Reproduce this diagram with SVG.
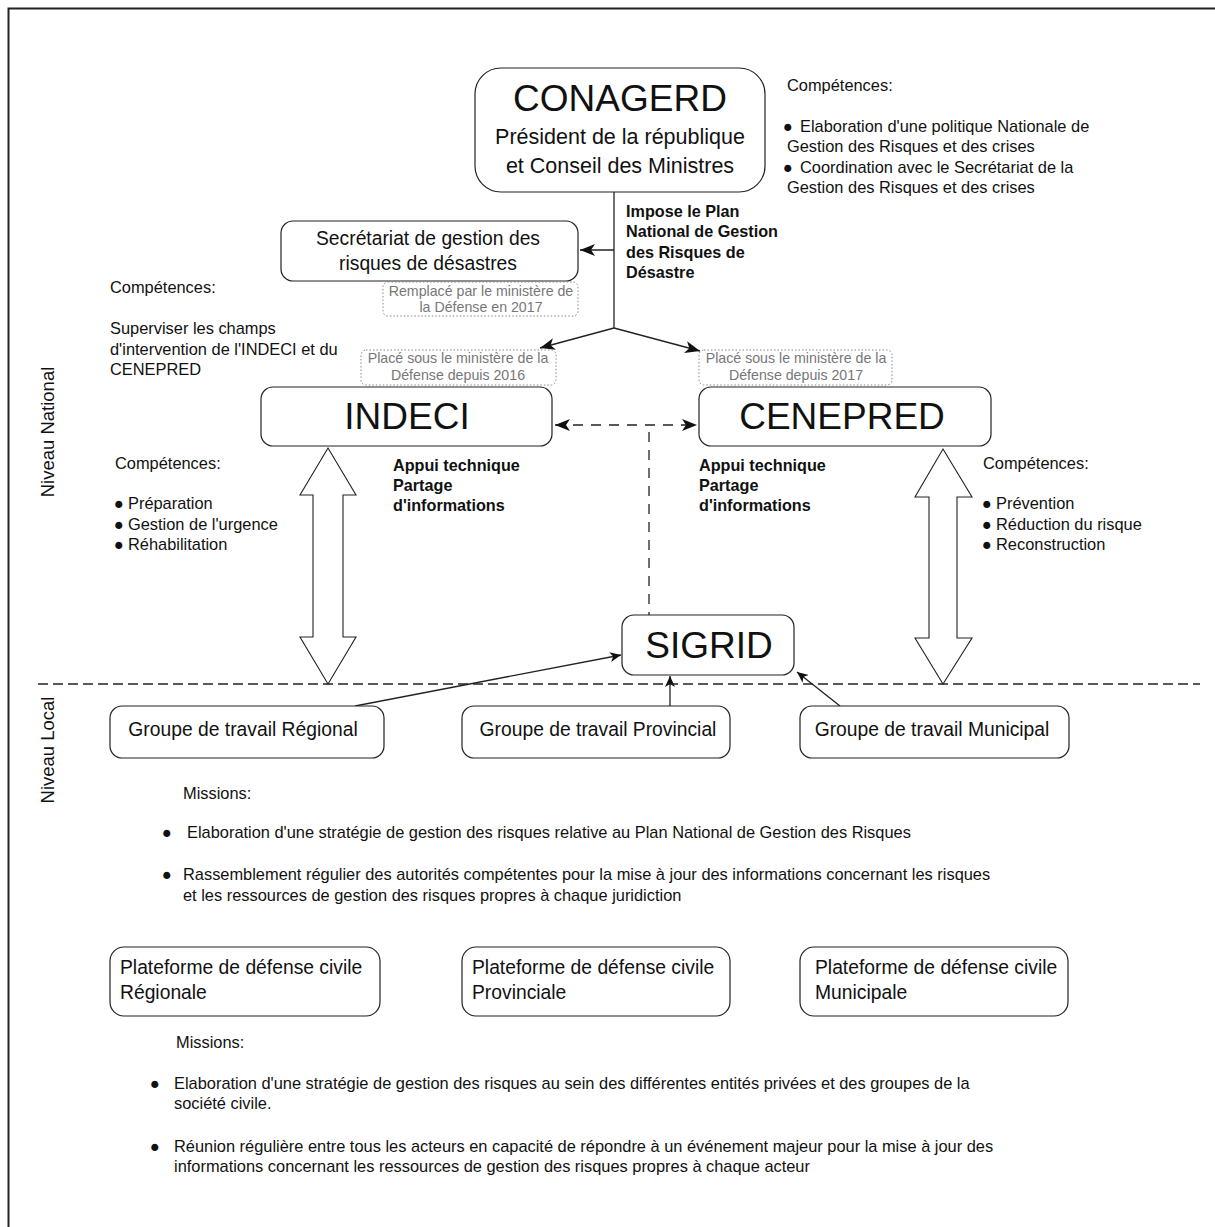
<svg xmlns="http://www.w3.org/2000/svg" width="1215" height="1227" viewBox="0 0 1215 1227">
<style>
text{font-family:"Liberation Sans",Arial,sans-serif;fill:#111}
.box{fill:#fff;stroke:#222;stroke-width:1.2}
.note{fill:#fff;stroke:#888;stroke-width:1;stroke-dasharray:1.5,2}
.nt{font-size:14.2px;fill:#777;text-anchor:middle}
.t15{font-size:16.4px}
.b15{font-size:16.2px;font-weight:bold}
.t18{font-size:19.3px}
.big{font-size:37px;text-anchor:middle}
.c{text-anchor:middle}
.ln{stroke:#222;stroke-width:1.3;fill:none}
.dash{stroke:#222;stroke-width:1.3;fill:none;stroke-dasharray:10,8}
.blk{fill:#fff;stroke:#222;stroke-width:1.1}
</style>
<defs>
<marker id="ah" markerUnits="userSpaceOnUse" markerWidth="16" markerHeight="12" refX="15" refY="6" orient="auto">
<path d="M0,0 L15,6 L0,12 L4,6 Z" fill="#111"/>
</marker>
<marker id="ahs" markerUnits="userSpaceOnUse" markerWidth="12" markerHeight="10" refX="11" refY="5" orient="auto">
<path d="M0,0 L11,5 L0,10 L3,5 Z" fill="#111"/>
</marker>
<marker id="ahst" markerUnits="userSpaceOnUse" markerWidth="16" markerHeight="12" refX="0" refY="6" orient="auto">
<path d="M15,0 L0,6 L15,12 L11,6 Z" fill="#111"/>
</marker>
</defs>
<rect x="0" y="0" width="1215" height="1227" fill="#fff"/>
<rect x="8.5" y="8.5" width="1230" height="1240" fill="none" stroke="#222" stroke-width="2"/>

<g id="connectors">
<path class="ln" d="M614,192 V328"/>
<path class="ln" d="M614,250 H580" marker-end="url(#ah)"/>
<path class="ln" d="M614,328 L540,348" marker-end="url(#ah)"/>
<path class="ln" d="M614,328 L700,351" marker-end="url(#ah)"/>
<path class="dash" d="M555,425 H697" marker-start="url(#ahst)" marker-end="url(#ah)"/>
<path class="dash" d="M649,432 V615"/>
<path class="ln" d="M355,706 L621,655" marker-end="url(#ahs)"/>
<path class="ln" d="M670,706 V676" marker-end="url(#ahs)"/>
<path class="ln" d="M840,706 L797,672" marker-end="url(#ahs)"/>
<path class="blk" d="M328,448 L356,495 L343,495 L343,637 L356,637 L328,684 L300,637 L313,637 L313,495 L300,495 Z"/>
<path class="blk" d="M943,449 L972,497 L957,497 L957,638 L972,638 L943,684 L915,638 L929,638 L929,497 L915,497 Z"/>
<path d="M38,684 H1200" stroke="#222" stroke-width="1.4" stroke-dasharray="10,5"/>
</g>

<g id="conagerd">
<rect class="box" x="475" y="68" width="290" height="124" rx="26"/>
<text class="big" x="620" y="111">CONAGERD</text>
<text class="c" x="620" y="144" font-size="21.5">Président de la république</text>
<text class="c" x="620" y="173" font-size="21.5">et Conseil des Ministres</text>
</g>
<g id="conagerd-comp" class="t15">
<text x="787" y="91">Compétences:</text>
<text x="783" y="132">●</text>
<text x="800" y="132">Elaboration d'une politique Nationale de</text>
<text x="787" y="152">Gestion des Risques et des crises</text>
<text x="783" y="173">●</text>
<text x="800" y="173">Coordination avec le Secrétariat de la</text>
<text x="787" y="193">Gestion des Risques et des crises</text>
</g>

<g id="impose-label" class="b15">
<text x="626" y="217">Impose le Plan</text>
<text x="626" y="237">National de Gestion</text>
<text x="626" y="258">des Risques de</text>
<text x="626" y="278">Désastre</text>
</g>

<g id="secretariat">
<rect class="box" x="281" y="221" width="297" height="60" rx="12"/>
<text class="t18 c" x="428" y="245">Secrétariat de gestion des</text>
<text class="t18 c" x="428" y="270">risques de désastres</text>
</g>
<g id="note-secretariat">
<rect class="note" x="383" y="282" width="195" height="34" rx="5"/>
<text class="nt" x="481" y="296">Remplacé par le ministère de</text>
<text class="nt" x="481" y="312">la Défense en 2017</text>
</g>

<g id="secretariat-comp" class="t15">
<text x="110" y="293">Compétences:</text>
<text x="110" y="334">Superviser les champs</text>
<text x="110" y="355">d'intervention de l'INDECI et du</text>
<text x="110" y="375">CENEPRED</text>
</g>

<g id="note-indeci">
<rect class="note" x="361" y="350" width="195" height="35" rx="5"/>
<text class="nt" x="458" y="363">Placé sous le ministère de la</text>
<text class="nt" x="458" y="380">Défense depuis 2016</text>
</g>
<g id="note-cenepred">
<rect class="note" x="699" y="350" width="193" height="35" rx="5"/>
<text class="nt" x="796" y="363">Placé sous le ministère de la</text>
<text class="nt" x="796" y="380">Défense depuis 2017</text>
</g>

<g id="indeci">
<rect class="box" x="261" y="387" width="291" height="59" rx="12"/>
<text class="big" x="407" y="429">INDECI</text>
</g>
<g id="cenepred">
<rect class="box" x="699" y="387" width="292" height="59" rx="12"/>
<text class="big" x="842" y="429">CENEPRED</text>
</g>

<g id="appui-left" class="b15">
<text x="393" y="471">Appui technique</text>
<text x="393" y="491">Partage</text>
<text x="393" y="511">d'informations</text>
</g>
<g id="appui-right" class="b15">
<text x="699" y="471">Appui technique</text>
<text x="699" y="491">Partage</text>
<text x="699" y="511">d'informations</text>
</g>

<g id="indeci-comp" class="t15">
<text x="115" y="469">Compétences:</text>
<text x="114" y="509">●</text><text x="128" y="509">Préparation</text>
<text x="114" y="530">●</text><text x="128" y="530">Gestion de l'urgence</text>
<text x="114" y="550">●</text><text x="128" y="550">Réhabilitation</text>
</g>
<g id="cenepred-comp" class="t15">
<text x="983" y="469">Compétences:</text>
<text x="982" y="509">●</text><text x="996" y="509">Prévention</text>
<text x="982" y="530">●</text><text x="996" y="530">Réduction du risque</text>
<text x="982" y="550">●</text><text x="996" y="550">Reconstruction</text>
</g>

<g id="sigrid">
<rect class="box" x="622" y="615" width="172" height="60" rx="12"/>
<text class="big" x="709" y="658">SIGRID</text>
</g>

<g id="levels">
<text transform="translate(54,432) rotate(-90)" class="c" font-size="18.5">Niveau National</text>
<text transform="translate(54,750) rotate(-90)" class="c" font-size="18.5">Niveau Local</text>
</g>

<g id="gt-regional">
<rect class="box" x="110" y="706" width="274" height="52" rx="12"/>
<text class="t18 c" x="243" y="736">Groupe de travail Régional</text>
</g>
<g id="gt-provincial">
<rect class="box" x="462" y="706" width="268" height="52" rx="12"/>
<text class="t18 c" x="598" y="736">Groupe de travail Provincial</text>
</g>
<g id="gt-municipal">
<rect class="box" x="800" y="706" width="269" height="52" rx="12"/>
<text class="t18 c" x="932" y="736">Groupe de travail Municipal</text>
</g>

<g id="missions-gt" class="t15">
<text x="183" y="799">Missions:</text>
<text x="162" y="838">●</text>
<text x="187" y="838">Elaboration d'une stratégie de gestion des risques relative au Plan National de Gestion des Risques</text>
<text x="162" y="880">●</text>
<text x="183" y="880">Rassemblement régulier des autorités compétentes pour la mise à jour des informations concernant les risques</text>
<text x="183" y="901">et les ressources de gestion des risques propres à chaque juridiction</text>
</g>

<g id="pf-regional">
<rect class="box" x="110" y="947" width="270" height="69" rx="14"/>
<text class="t18" x="120" y="974">Plateforme de défense civile</text>
<text class="t18" x="120" y="999">Régionale</text>
</g>
<g id="pf-provincial">
<rect class="box" x="462" y="947" width="268" height="69" rx="14"/>
<text class="t18" x="472" y="974">Plateforme de défense civile</text>
<text class="t18" x="472" y="999">Provinciale</text>
</g>
<g id="pf-municipal">
<rect class="box" x="800" y="947" width="268" height="69" rx="14"/>
<text class="t18" x="815" y="974">Plateforme de défense civile</text>
<text class="t18" x="815" y="999">Municipale</text>
</g>

<g id="missions-pf" class="t15">
<text x="176" y="1048">Missions:</text>
<text x="150" y="1089">●</text>
<text x="174" y="1089">Elaboration d'une stratégie de gestion des risques au sein des différentes entités privées et des groupes de la</text>
<text x="174" y="1109">société civile.</text>
<text x="150" y="1152">●</text>
<text x="174" y="1152">Réunion régulière entre tous les acteurs en capacité de répondre à un événement majeur pour la mise à jour des</text>
<text x="174" y="1172">informations concernant les ressources de gestion des risques propres à chaque acteur</text>
</g>
</svg>
